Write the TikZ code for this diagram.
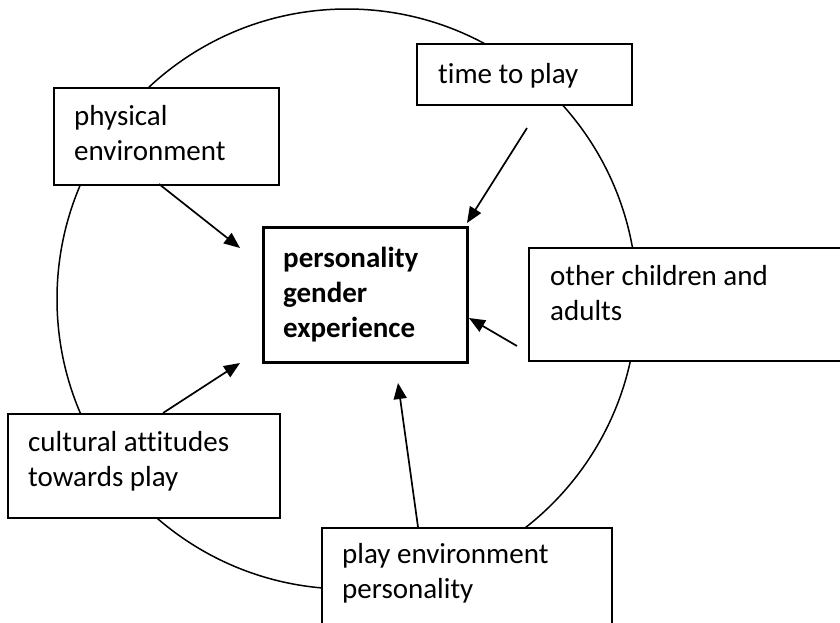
\documentclass[tikz,border=0pt]{standalone}
\usepackage{fontspec}
\setmainfont[Ligatures=NoCommon]{Carlito}
\usetikzlibrary{arrows.meta}
\tikzset{
  box/.style={draw=black, line width=1.7pt, fill=white, rectangle, inner sep=0pt, anchor=north west},
  txt/.style={inner sep=0pt, anchor=base west, font=\fontsize{29}{35}\selectfont},
  arr/.style={line width=1.7pt, -{Triangle[length=16pt,width=13pt]}},
  ring/.style={line width=1.5pt}
}
\begin{document}
\begin{tikzpicture}[x=1pt,y=-1pt]
\useasboundingbox (0,0) rectangle (840,622);
% circle
\coordinate (c0) at (347,299);
\draw[ring] (c0) circle[radius=290];
% boxes
\node[box, minimum width=225pt, minimum height=97pt] (phys) at (53,87) {};
\node[box, minimum width=215pt, minimum height=61pt] (time) at (416,43) {};
\node[box, line width=2.6pt, minimum width=204pt, minimum height=135pt] (ctr) at (262,226) {};
\node[box, minimum width=313pt, minimum height=113pt] (other) at (528,247) {};
\node[box, minimum width=272pt, minimum height=104pt] (cult) at (7,413) {};
\node[box, minimum width=290pt, minimum height=120pt] (play) at (321,527) {};
% texts
\node[txt] (phys-t) at (74,125) {\parbox[t]{300pt}{physical\\environment}};
\node[txt] (time-t) at (438,83) {\parbox[t]{300pt}{time to play}};
\node[txt] (ctr-t) at (283,267) {\parbox[t]{300pt}{\bfseries personality\\gender\\experience}};
\node[txt] (other-t) at (550,285) {\parbox[t]{300pt}{other children and\\adults}};
\node[txt] (cult-t) at (28,451) {\parbox[t]{300pt}{cultural attitudes\\towards play}};
\node[txt] (play-t) at (342,563) {\parbox[t]{300pt}{play environment\\personality}};
% arrow ends
\coordinate (s1) at (159,184);
\coordinate (e1) at (240,248);
\coordinate (s2) at (527,128);
\coordinate (e2) at (467,223);
\coordinate (s3) at (517,346);
\coordinate (e3) at (469,318);
\coordinate (s4) at (163,413);
\coordinate (e4) at (240,363);
\coordinate (s5) at (418,527);
\coordinate (e5) at (398,383);
\draw[arr] (s1) -- (e1);
\draw[arr] (s2) -- (e2);
\draw[arr] (s3) -- (e3);
\draw[arr] (s4) -- (e4);
\draw[arr] (s5) -- (e5);
\end{tikzpicture}
\end{document}
